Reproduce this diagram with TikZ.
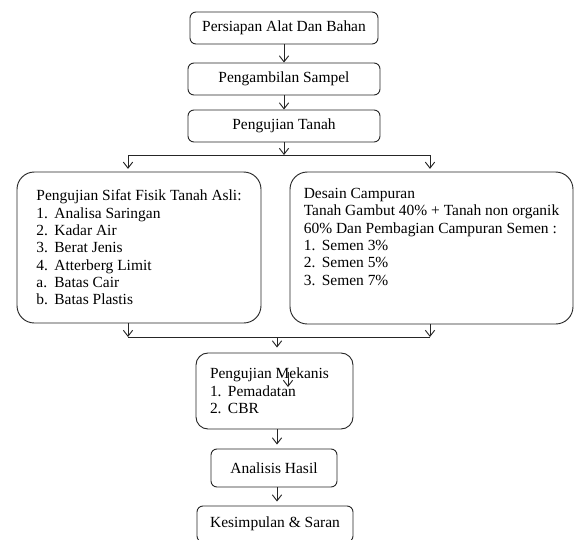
\documentclass[tikz,border=0pt]{standalone}
\usepackage{fontspec}
\setmainfont{Liberation Serif}
\usetikzlibrary{arrows.meta}

\newcommand{\nr}[1]{\makebox[13.5pt][l]{#1}}

\begin{document}
\begin{tikzpicture}[x = 0.75pt, y = -0.75pt,
                    box/.style    = {draw=black!85, line width=0.7pt, rounded corners=4.5pt, inner sep=0pt,
                                     align=center, font=\fontsize{11.6}{13}\selectfont},
                    bigbox/.style = {box, rounded corners=13pt, align=flush left},
                    arr/.style    = {draw=black!85, line width=0.7pt, -{Straight Barb[length=4.5pt,width=7pt]}},
                    link/.style   = {draw=black!85, line width=0.7pt}]

    \useasboundingbox (0,0) rectangle (574,539);

    \node[box, minimum width=141pt, minimum height=24pt] (persiapan) at (284,28) {Persiapan Alat Dan Bahan};
    \node[box, minimum width=144pt, minimum height=24pt] (sampel) at (284,79) {Pengambilan Sampel};
    \node[box, minimum width=144pt, minimum height=24pt] (tanah) at (284,126) {Pengujian Tanah};

    \node[bigbox, minimum width=183pt, minimum height=113.25pt] (fisik) at (139,247.5)
        {Pengujian Sifat Fisik Tanah Asli:\\
         \nr{1.}Analisa Saringan\\
         \nr{2.}Kadar Air\\
         \nr{3.}Berat Jenis\\
         \nr{4.}Atterberg Limit\\
         \nr{a.}Batas Cair\\
         \nr{b.}Batas Plastis};
    \node[bigbox, minimum width=212.25pt, minimum height=114pt] (desain) at (431.5,248)
        {Desain Campuran\\
         Tanah Gambut 40\% + Tanah non organik\\
         60\% Dan Pembagian Campuran Semen :\\
         \nr{1.}Semen 3\%\\
         \nr{2.}Semen 5\%\\
         \nr{3.}Semen 7\%\\
         \strut};

    \node[bigbox, rounded corners=9pt, minimum width=117.75pt, minimum height=57pt, text width=96.75pt] (mekanis) at (274.5,391)
        {Pengujian Mekanis\\
         \nr{1.}Pemadatan\\
         \nr{2.}CBR};
    \node[box, minimum width=94.5pt, minimum height=28.5pt] (analisis) at (274,468) {Analisis Hasil};
    \node[box, minimum width=117pt, minimum height=27pt] (kesimpulan) at (275,524) {Kesimpulan \& Saran};

    \coordinate (split)  at (284,155);
    \coordinate (splitL) at (128,155);
    \coordinate (splitR) at (430,155);
    \coordinate (joinL)  at (128,337);
    \coordinate (joinR)  at (430,337);
    \coordinate (join)   at (277,337);
    \coordinate (col)    at (277,0);
    \coordinate (strayA) at (288,372);
    \coordinate (strayB) at (288,387);

    \draw[arr] (persiapan) -- (sampel);
    \draw[arr] (sampel) -- (tanah);
    \draw[arr] (tanah) -- (split);
    \draw[link] (splitL) -- (splitR);
    \draw[arr, shorten >=2pt] (splitL) -- (splitL |- fisik.north);
    \draw[arr, shorten >=2pt] (splitR) -- (splitR |- desain.north);

    \draw[arr] (joinL |- fisik.south) -- (joinL);
    \draw[arr] (joinR |- desain.south) -- (joinR);
    \draw[link] (joinL) -- (joinR);
    \draw[arr, shorten >=3.75pt] (join) -- (join |- mekanis.north);
    \draw[arr] (strayA) -- (strayB);

    \draw[arr, shorten >=3pt] (col |- mekanis.south) -- (col |- analisis.north);
    \draw[arr, shorten >=3pt] (col |- analisis.south) -- (col |- kesimpulan.north);

\end{tikzpicture}
\end{document}
